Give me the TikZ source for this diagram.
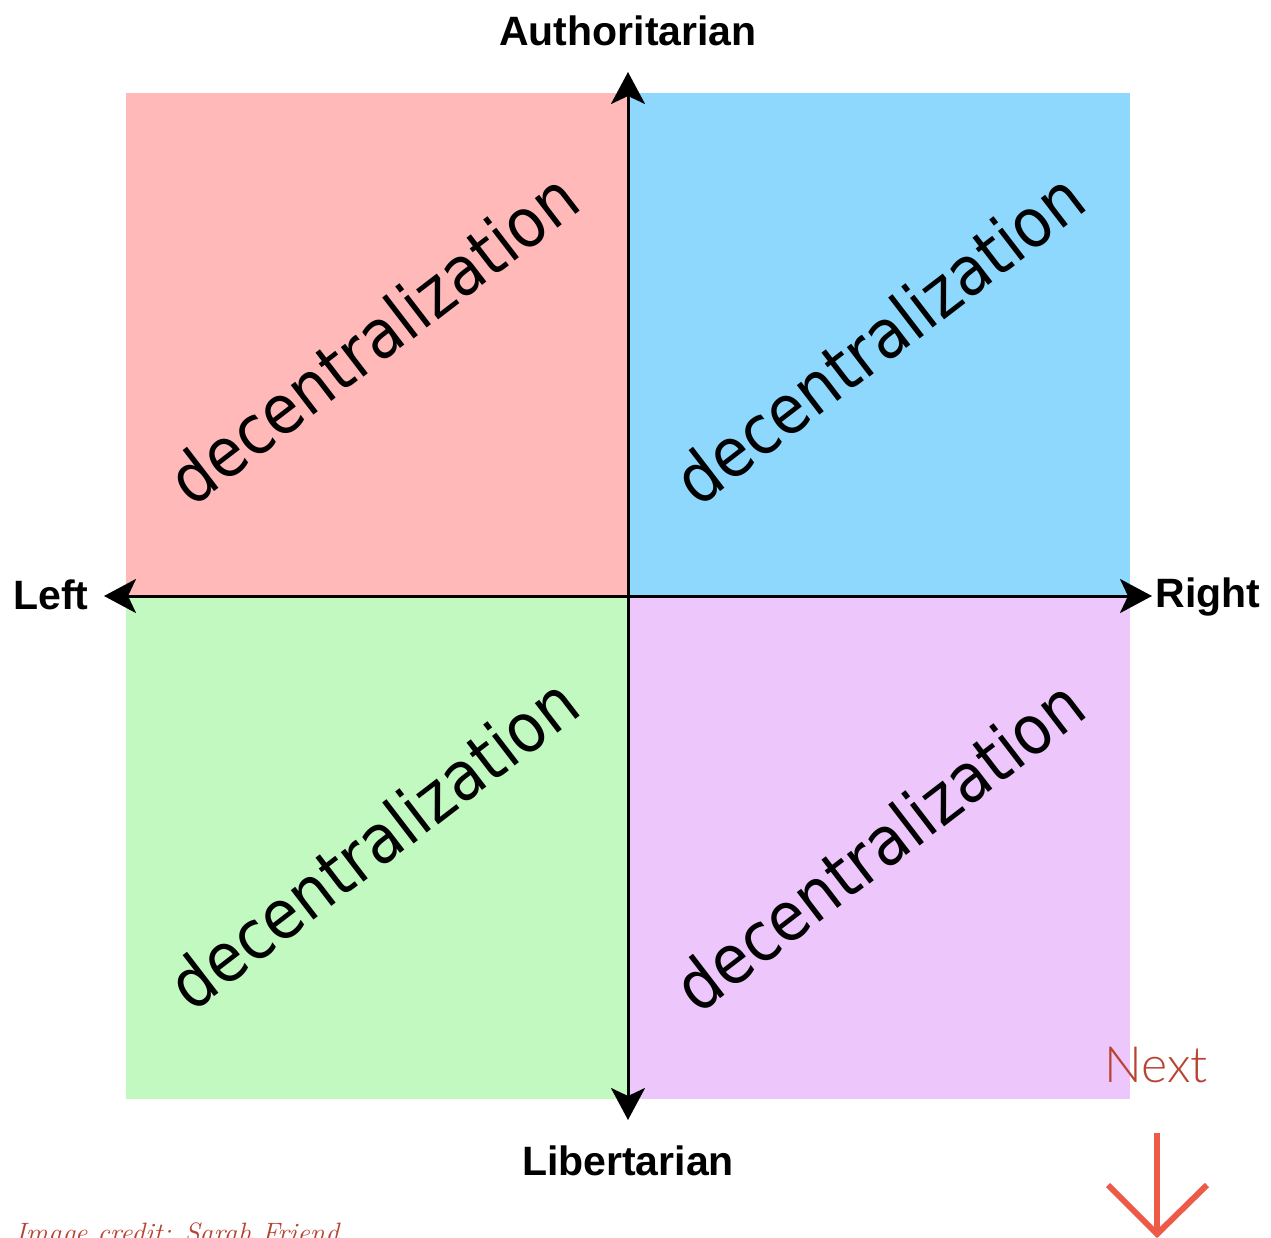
\documentclass[tikz,border=0pt]{standalone}
\usepackage{fontspec}
\newfontfamily\labelfont{Liberation Sans}
\newfontfamily\quadfont{DejaVu Sans Condensed}
\newfontfamily\nextfont{Lato Light}
\usetikzlibrary{arrows.meta}
\definecolor{pinkq}{RGB}{255,185,185}
\definecolor{blueq}{RGB}{143,216,253}
\definecolor{greenq}{RGB}{193,249,193}
\definecolor{purpleq}{RGB}{237,198,252}
\definecolor{creditred}{RGB}{184,67,50}
\definecolor{arrowred}{RGB}{238,90,72}
\tikzset{
  quadbox/.style={draw=none, inner sep=0pt, minimum width=251pt, minimum height=251.5pt},
  dectext/.style={inner sep=0pt, rotate=37.5, font=\quadfont\fontsize{34pt}{40pt}\selectfont},
  axislabel/.style={inner sep=0pt, font=\labelfont\bfseries\fontsize{20.5pt}{24pt}\selectfont},
  axisline/.style={line width=1.5pt, {Stealth[length=16pt,width=17pt,inset=4pt]}-{Stealth[length=16pt,width=17pt,inset=4pt]}},
  nextarrow/.style={draw=arrowred, line width=3pt},
}
\begin{document}
\begin{tikzpicture}[x=0.5pt,y=-0.5pt]
\useasboundingbox (0,0) rectangle (1271,1238);
\clip (0,0) rectangle (1271,1238);
\fill[white] (0,0) rectangle (1271,1238);
% quadrants
\node[quadbox, fill=pinkq]   (q1) at (377,344.5) {};
\node[quadbox, fill=blueq]   (q2) at (879,344.5) {};
\node[quadbox, fill=greenq]  (q3) at (377,847) {};
\node[quadbox, fill=purpleq] (q4) at (879,847) {};
% quadrant texts
\node[dectext] (t1) at (373,338) {decentralization};
\node[dectext] (t2) at (879,338) {decentralization};
\node[dectext] (t3) at (373,843) {decentralization};
\node[dectext] (t4) at (879,845) {decentralization};
% axes
\coordinate (L) at (104,596);
\coordinate (R) at (1152,596);
\coordinate (T) at (628,72);
\coordinate (B) at (628,1120);
\draw[axisline] (L) -- (R);
\draw[axisline] (B) -- (T);
% axis labels
\node[axislabel, anchor=base] (auth) at (628,45) {Authoritarian};
\node[axislabel, anchor=base] (lib) at (628,1175) {Libertarian};
\node[axislabel, anchor=base west] (left) at (13,609) {Left};
\node[axislabel, anchor=base west] (right) at (1155,607) {Right};
% next
\node[inner sep=0pt, anchor=base west, text=creditred, font=\nextfont\fontsize{25pt}{29pt}\selectfont] (next) at (1104,1082) {Next};
\coordinate (ns) at (1157,1133);
\coordinate (ne) at (1157,1234);
\coordinate (nl) at (1108,1185);
\coordinate (nr) at (1207,1185);
\draw[nextarrow] (ns) -- (ne);
\draw[nextarrow, line join=miter] (nl) -- (ne) -- (nr);
% credit
\node[inner sep=0pt, anchor=base west, text=creditred, font=\itshape\fontsize{14pt}{16pt}\selectfont] (credit) at (15,1242) {Image credit: Sarah Friend};
\end{tikzpicture}
\end{document}
